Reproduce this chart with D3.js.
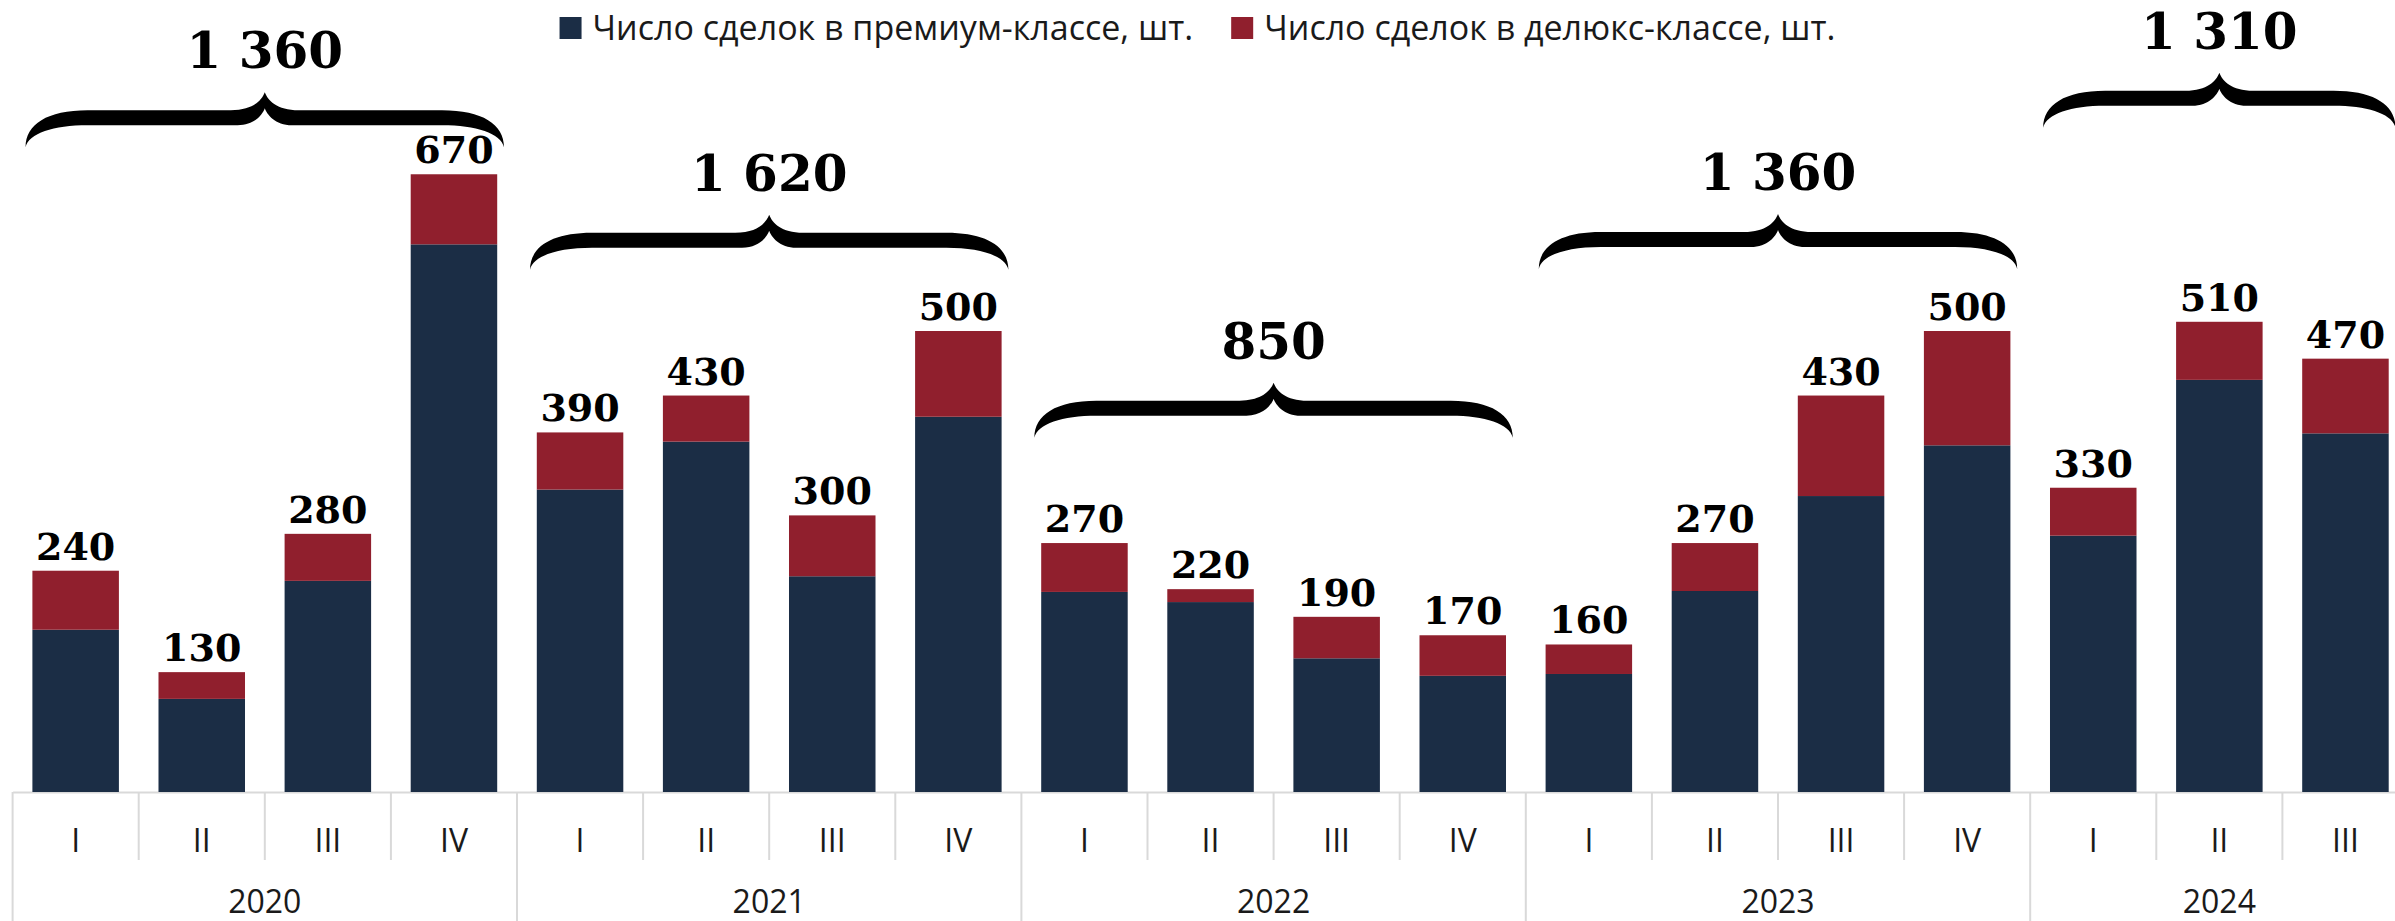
<!DOCTYPE html>
<html>
<head>
<meta charset="utf-8">
<script src="https://cdn.jsdelivr.net/npm/d3@7"></script>
<style>
  body { margin: 0; background: #fff; }
  svg { display: block; }
</style>
</head>
<body>
<svg class="deals"></svg>
<script>
// quarters by year
let years = [2020, 2021, 2022, 2023, 2024];
let quarterNames = ['I', 'II', 'III', 'IV'];
let quartersPerYear = [4, 4, 4, 4, 3];

// deals per quarter, pcs
let premium = [176, 101, 229, 594, 328, 380, 234, 407, 217, 206, 145, 126, 128, 218, 321, 376, 278, 447, 389];
let deluxe = [64, 29, 51, 76, 62, 50, 66, 93, 53, 14, 45, 44, 32, 52, 109, 124, 52, 63, 81];

// yearly totals shown over the braces and the level of each brace (in deals)
let yearTotals = [1360, 1620, 850, 1360, 1310];
let braceLevels = [759, 626, 444, 627, 780];

let seriesNames = ['Число сделок в премиум-классе, шт.', 'Число сделок в делюкс-классе, шт.'];
let colors = ['#1b2d45', '#901f2d'];

let width = 2395, height = 921;
let baseY = 792;

// flat list of periods
let periods = [];
years.forEach((yr, k) => {
  for (let q = 0; q < quartersPerYear[k]; q++) {
    periods.push({ year: yr, q: quarterNames[q], i: periods.length });
  }
});

let data = periods.map((p, i) => ({
  i: i,
  year: p.year,
  q: p.q,
  premium: premium[i],
  deluxe: deluxe[i],
  total: premium[i] + deluxe[i]
}));

let svg = d3.select('.deals')
  .attr('width', width)
  .attr('height', height);

let step = 126.1;
let x = d3.scaleBand()
  .domain(d3.range(data.length))
  .range([12.6, 12.6 + data.length * step])
  .paddingInner(0.314)
  .paddingOuter(0.157);

let y = d3.scaleLinear().domain([0, 800]).range([baseY, baseY - 0.922 * 800]);

let fmt = d3.formatLocale({ decimal: ',', thousands: ' ', grouping: [3], currency: ['', ''] }).format(',d');

// band edge helper
let edge = i => x.range()[0] + i * x.step();

// ---- axis ----
let axis = svg.append('g')
  .attr('class', 'axis x')
  .attr('transform', 'translate(0,' + baseY + ')')
  .call(d3.axisBottom(x).tickSize(0).tickSizeOuter(0).tickFormat(i => periods[i].q));

axis.select('.domain').attr('stroke', '#d9d9d9').attr('stroke-width', 2);
axis.selectAll('text')
  .attr('y', 48)
  .attr('dy', '0.36em')
  .attr('font-family', 'Open Sans, sans-serif')
  .attr('font-size', 32)
  .attr('fill', '#1a1a1a');

// separators between quarters and between years
let yearStarts = [];
let acc = 0;
quartersPerYear.forEach(n => { yearStarts.push(acc); acc += n; });

axis.selectAll('.sep')
  .data(d3.range(data.length + 1))
  .enter()
  .append('line')
  .attr('class', 'sep')
  .attr('x1', i => edge(i))
  .attr('x2', i => edge(i))
  .attr('y1', 0)
  .attr('y2', i => (yearStarts.includes(i) || i === data.length) ? height - baseY : 68)
  .attr('stroke', '#d9d9d9')
  .attr('stroke-width', 2);

axis.selectAll('.year')
  .data(years)
  .enter()
  .append('text')
  .attr('class', 'year')
  .attr('x', (d, k) => (edge(yearStarts[k]) + edge(yearStarts[k] + quartersPerYear[k])) / 2)
  .attr('y', 109)
  .attr('dy', '0.36em')
  .attr('text-anchor', 'middle')
  .attr('font-family', 'Open Sans, sans-serif')
  .attr('font-size', 32)
  .attr('fill', '#1a1a1a')
  .text(d => d);

// ---- bars ----
let stack = d3.stack().keys(['premium', 'deluxe'])(data);

svg.append('g').selectAll('g')
  .data(stack)
  .enter()
  .append('g')
  .attr('fill', (d, k) => colors[k])
  .selectAll('rect')
  .data(d => d)
  .enter()
  .append('rect')
  .attr('x', d => x(d.data.i))
  .attr('y', d => y(d[1]))
  .attr('height', d => y(d[0]) - y(d[1]))
  .attr('width', x.bandwidth());

svg.append('g').selectAll('text')
  .data(data)
  .enter()
  .append('text')
  .attr('x', d => x(d.i) + x.bandwidth() / 2)
  .attr('y', d => y(d.total) - 11)
  .attr('text-anchor', 'middle')
  .attr('font-family', 'DejaVu Serif, serif')
  .attr('font-weight', 'bold')
  .attr('font-size', 38)
  .attr('fill', '#000')
  .text(d => d.total);

// ---- braces with yearly totals ----
function bracePath(x0, x1, yc) {
  let xm = (x0 + x1) / 2;
  let t = yc + 18, b = yc + 33, e = yc + 55;
  let ew = 62, cw = 34;
  return 'M' + x0 + ',' + e +
    'C' + x0 + ',' + (t + 14) + ' ' + (x0 + ew * 0.35) + ',' + t + ' ' + (x0 + ew) + ',' + t +
    'L' + (xm - cw) + ',' + t +
    'C' + (xm - cw * 0.35) + ',' + t + ' ' + (xm - 3) + ',' + (yc + 8) + ' ' + xm + ',' + yc +
    'C' + (xm + 3) + ',' + (yc + 8) + ' ' + (xm + cw * 0.35) + ',' + t + ' ' + (xm + cw) + ',' + t +
    'L' + (x1 - ew) + ',' + t +
    'C' + (x1 - ew * 0.35) + ',' + t + ' ' + x1 + ',' + (t + 14) + ' ' + x1 + ',' + e +
    'C' + (x1 - 3) + ',' + (b + 8) + ' ' + (x1 - ew * 0.45) + ',' + b + ' ' + (x1 - ew) + ',' + b +
    'L' + (xm + cw * 0.8) + ',' + b +
    'C' + (xm + cw * 0.3) + ',' + b + ' ' + (xm + 2) + ',' + (yc + 22) + ' ' + xm + ',' + (yc + 16) +
    'C' + (xm - 2) + ',' + (yc + 22) + ' ' + (xm - cw * 0.3) + ',' + b + ' ' + (xm - cw * 0.8) + ',' + b +
    'L' + (x0 + ew) + ',' + b +
    'C' + (x0 + ew * 0.45) + ',' + b + ' ' + (x0 + 3) + ',' + (b + 8) + ' ' + x0 + ',' + e + 'Z';
}

let braces = svg.append('g').selectAll('g')
  .data(years.map((yr, k) => ({
    x0: edge(yearStarts[k]) + 13,
    x1: edge(yearStarts[k] + quartersPerYear[k]) - 13,
    yc: y(braceLevels[k]),
    total: yearTotals[k]
  })))
  .enter()
  .append('g');

braces.append('path')
  .attr('d', d => bracePath(d.x0, d.x1, d.yc))
  .attr('fill', '#000');

braces.append('text')
  .attr('x', d => (d.x0 + d.x1) / 2)
  .attr('y', d => d.yc - 24)
  .attr('text-anchor', 'middle')
  .attr('font-family', 'DejaVu Serif, serif')
  .attr('font-weight', 'bold')
  .attr('font-size', 50)
  .attr('fill', '#000')
  .text(d => fmt(d.total));

// ---- legend ----
let legend = svg.append('g').attr('class', 'legend');
let lx = 0;
seriesNames.forEach((name, k) => {
  let item = legend.append('g').attr('transform', 'translate(' + lx + ',0)');
  item.append('rect')
    .attr('x', 0).attr('y', 17)
    .attr('width', 22).attr('height', 22)
    .attr('fill', colors[k]);
  let t = item.append('text')
    .attr('x', 33).attr('y', 28)
    .attr('dy', '0.36em')
    .attr('font-family', 'Open Sans, sans-serif')
    .attr('font-size', 34)
    .attr('fill', '#1a1a1a')
    .text(name);
  lx += 33 + t.node().getComputedTextLength() + 38;
});
let lw = lx - 38;
legend.attr('transform', 'translate(' + ((width - lw) / 2) + ',0)');
</script>
</body>
</html>
